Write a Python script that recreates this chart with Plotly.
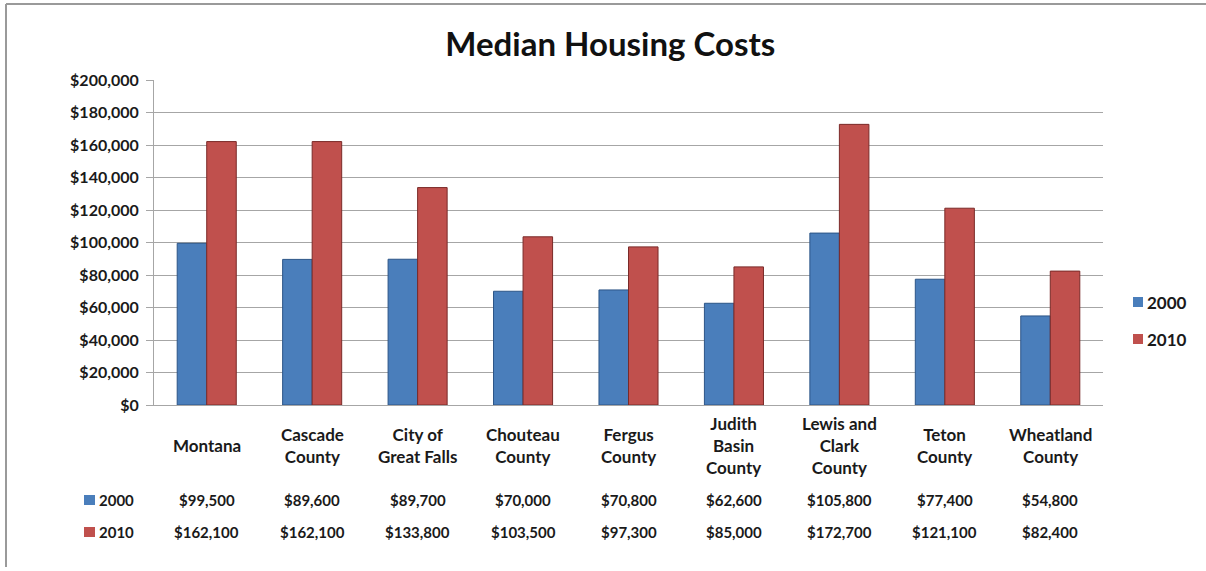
import plotly.graph_objects as go

# chart data
places = ["Montana", "Cascade<br>County", "City of<br>Great Falls", "Chouteau<br>County",
          "Fergus<br>County", "Judith<br>Basin<br>County", "Lewis and<br>Clark<br>County",
          "Teton<br>County", "Wheatland<br>County"]
cost_2000 = [99500, 89600, 89700, 70000, 70800, 62600, 105800, 77400, 54800]
cost_2010 = [162100, 162100, 133800, 103500, 97300, 85000, 172700, 121100, 82400]
series_names = ["2000", "2010"]
y_ticks = [0, 20000, 40000, 60000, 80000, 100000, 120000, 140000, 160000, 180000, 200000]

W, H = 1206, 571
blue = "#4a7ebb"
red = "#c0504d"
colors = [blue, red]
font = "Lato"
txt = "#1a1a1a"

# plot area in pixels -> paper fractions
x0, x1 = 154, 1103
y_top, y_bot = 80, 405

fig = go.Figure()
xs = list(range(len(places)))
fig.add_trace(go.Bar(x=xs, y=cost_2000, name=series_names[0],
                     marker=dict(color=blue, line=dict(color="#2c5587", width=1))))
fig.add_trace(go.Bar(x=xs, y=cost_2010, name=series_names[1],
                     marker=dict(color=red, line=dict(color="#7a2a28", width=1))))

fig.update_layout(
    width=W, height=H,
    margin=dict(l=0, r=0, t=0, b=0, pad=0, autoexpand=False),
    paper_bgcolor="white", plot_bgcolor="white",
    barmode="group", bargap=0.44, bargroupgap=0,
    showlegend=False,
    font=dict(family=font, color=txt, size=13),
    title=dict(text="<b>Median Housing Costs</b>", x=0.506, xanchor="center",
               y=1 - 44 / H, yanchor="middle", font=dict(size=33, family=font, color="#111")),
    xaxis=dict(domain=[x0 / W, x1 / W], range=[-0.5, len(places) - 0.5], automargin=False,
               showticklabels=False, showgrid=False, zeroline=False,
               showline=True, linecolor="#a6a6a6", linewidth=1, ticks=""),
    yaxis=dict(domain=[1 - y_bot / H, 1 - y_top / H], range=[0, 200000], automargin=False,
               tickvals=y_ticks, ticktext=[f"${v:,}" for v in y_ticks],
               showgrid=True, gridcolor="#a6a6a6", gridwidth=1,
               showline=True, linecolor="#a6a6a6", linewidth=1,
               ticks="outside", ticklen=7, tickcolor="#a6a6a6", ticklabelstandoff=4,
               zeroline=False, tickfont=dict(size=16, family=font, color=txt, weight="bold")),
)

# side legend
for name, col, ypx in zip(series_names, colors, [302, 339]):
    fig.add_shape(type="rect", xref="paper", yref="paper",
                  x0=1133 / W, x1=1143 / W, y0=1 - (ypx + 5) / H, y1=1 - (ypx - 5) / H,
                  fillcolor=col, line=dict(width=0))
    fig.add_annotation(x=1145 / W, xref="paper", y=1 - ypx / H, yref="paper", text=name,
                       showarrow=False, xanchor="left", yanchor="middle",
                       font=dict(size=17, family=font, color=txt, weight="bold"))

# category labels under the axis
for i, p in enumerate(places):
    fig.add_annotation(x=i, xref="x", y=1 - 445 / H, yref="paper", text=p,
                       showarrow=False, xanchor="center", yanchor="middle", align="center",
                       font=dict(size=17, family=font, color=txt, weight="bold"))

# data table rows
for vals, col, ypx, name in zip([cost_2000, cost_2010], colors, [500, 532], series_names):
    fig.add_shape(type="rect", xref="paper", yref="paper",
                  x0=84 / W, x1=95 / W, y0=1 - (ypx + 5) / H, y1=1 - (ypx - 5) / H,
                  fillcolor=col, line=dict(width=0))
    fig.add_annotation(x=97 / W, xref="paper", y=1 - ypx / H, yref="paper", text=name,
                       showarrow=False, xanchor="left", yanchor="middle",
                       font=dict(size=15, family=font, color=txt, weight="bold"))
    for i, v in enumerate(vals):
        fig.add_annotation(x=i, xref="x", y=1 - ypx / H, yref="paper", text=f"${v:,}",
                           showarrow=False, xanchor="center", yanchor="middle",
                           font=dict(size=15, family=font, color=txt, weight="bold"))

# outer frame (top and left edges)
fig.add_shape(type="line", xref="paper", yref="paper", x0=6 / W, x1=1, y0=1 - 4 / H, y1=1 - 4 / H,
              line=dict(color="#9a9a9a", width=2))
fig.add_shape(type="line", xref="paper", yref="paper", x0=6 / W, x1=6 / W, y0=1 - 4 / H, y1=1 - 567 / H,
              line=dict(color="#9a9a9a", width=2))

pin = ("var gd=document.getElementById('{plot_id}');"
       "gd.style.position='fixed';gd.style.left='0px';gd.style.top='0px';"
       "document.body.style.margin='0';document.body.style.overflow='hidden';")
fig.write_html("out.html", config={"displayModeBar": False}, post_script=pin)
